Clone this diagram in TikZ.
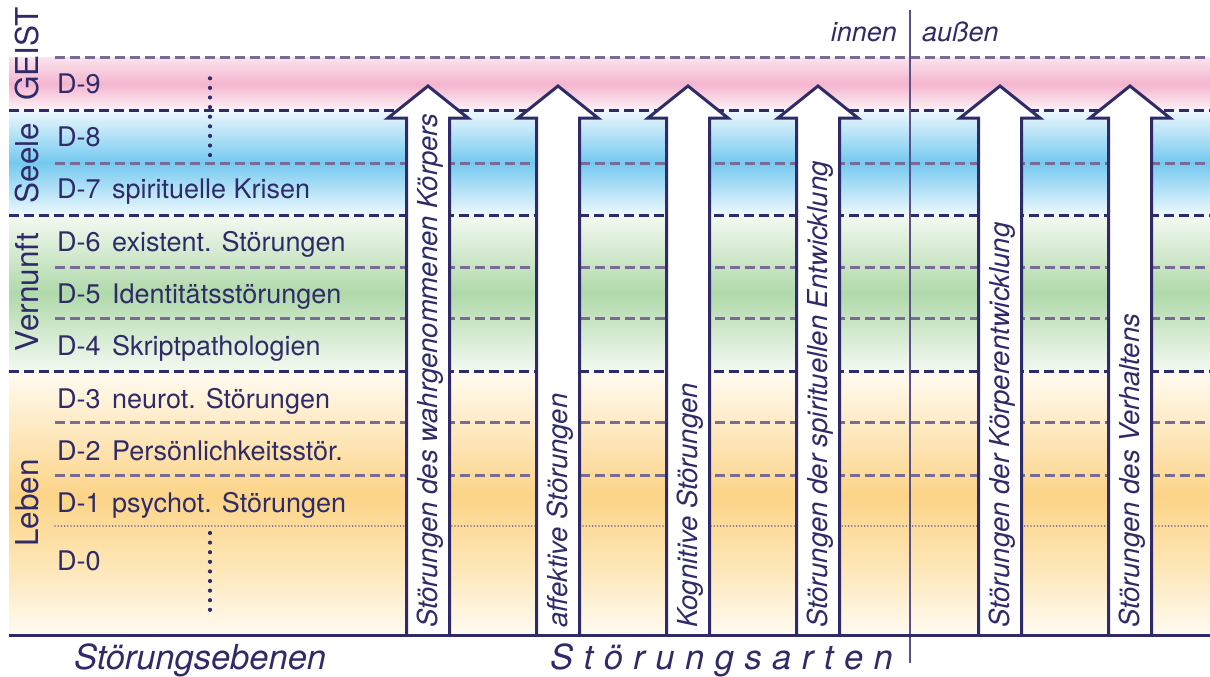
\documentclass[tikz,border=0pt]{standalone}
\usepackage{fontspec}
\setmainfont{TeX Gyre Heros}

\definecolor{navy}{RGB}{46,43,104}
\definecolor{dashgrey}{RGB}{120,108,150}
\definecolor{divider}{RGB}{92,80,140}
\definecolor{pinkpk}{RGB}{244,181,207}
\definecolor{pinklt}{RGB}{250,226,236}
\definecolor{pinkwt}{RGB}{253,242,247}
\definecolor{bluepk}{RGB}{116,201,240}
\definecolor{bluelt}{RGB}{238,248,253}
\definecolor{greenpk}{RGB}{176,217,170}
\definecolor{greenlt}{RGB}{244,249,242}
\definecolor{orangepk}{RGB}{252,212,136}
\definecolor{orangemd}{RGB}{253,230,182}
\definecolor{orangelt}{RGB}{255,251,242}

\begin{document}
\begin{tikzpicture}[x=1pt,y=-1pt,
  grpline/.style={navy, line width=3pt, dash pattern=on 9.5pt off 5.5pt},
  subline/.style={dashgrey, line width=3pt, dash pattern=on 9.5pt off 5.5pt},
  dotline/.style={dashgrey, line width=1.8pt, dash pattern=on 0pt off 3.2pt, line cap=round},
  dotcolumn/.style={navy, line width=4.2pt, dash pattern=on 0pt off 9.6pt, line cap=round},
  arrowbody/.style={draw=navy, fill=white, line width=3pt, line join=miter},
  grplabel/.style={text=navy, inner sep=0pt, rotate=90, anchor=base,
    font=\fontsize{31.5pt}{34pt}\selectfont},
  lvlabel/.style={text=navy, inner sep=0pt, anchor=base west,
    font=\fontsize{27pt}{30pt}\selectfont},
  arrowlabel/.style={text=navy, inner sep=0pt, rotate=90, anchor=base west,
    font=\fontsize{27.5pt}{30pt}\selectfont\itshape},
  sidelabel/.style={text=navy, inner sep=0pt,
    font=\fontsize{27pt}{30pt}\selectfont\itshape},
  axislabel/.style={text=navy, inner sep=0pt, anchor=base west,
    font=\fontsize{34.5pt}{37pt}\selectfont\itshape}
]
\useasboundingbox (0,0) rectangle (1210,677);

% colour bands of the four realms (middle color must come last)
\shade[top color=pinklt, bottom color=pinkwt, middle color=pinkpk]
  (9,58) rectangle (1210,110);
\shade[top color=bluelt, bottom color=bluelt, middle color=bluepk]
  (9,110) rectangle (1210,215);
\shade[top color=greenlt, bottom color=greenlt, middle color=greenpk]
  (9,215) rectangle (1210,371);
\shade[top color=orangelt, bottom color=orangepk]
  (9,371) rectangle (1210,496);
\shade[top color=orangepk, bottom color=orangelt, middle color=orangemd]
  (9,496) rectangle (1210,635);

% level separators
\foreach \y in {58,163,267,318,422,475}
  \draw[subline] (55,\y) -- (1210,\y);
\foreach \y in {110,215,371}
  \draw[grpline] (9,\y) -- (1210,\y);
\draw[dotline] (55,526) -- (1210,526);

% dotted continuation marks
\draw[dotcolumn] (210,78.3) -- (210,156);
\draw[dotcolumn] (210,533) -- (210,611);

% realm labels
\node[grplabel] (geist)    at (38,54)  {GEIST};
\node[grplabel] (seele)    at (38,163) {Seele};
\node[grplabel] (vernunft) at (38,292) {Vernunft};
\node[grplabel] (leben)    at (38,503) {Leben};

% disorder levels
\node[lvlabel] (d9) at (57,93.5) {D-9};
\node[lvlabel] (d8) at (57,146)  {D-8};
\node[lvlabel] (d7) at (57,198)  {D-7};
\node[lvlabel] (d6) at (57,251)  {D-6};
\node[lvlabel] (d5) at (57,303)  {D-5};
\node[lvlabel] (d4) at (57,355)  {D-4};
\node[lvlabel] (d3) at (57,408)  {D-3};
\node[lvlabel] (d2) at (57,460)  {D-2};
\node[lvlabel] (d1) at (57,512)  {D-1};
\node[lvlabel] (d0) at (57,570)  {D-0};

\node[lvlabel] (t7) at (112,198) {spirituelle Krisen};
\node[lvlabel] (t6) at (112,251) {existent. Störungen};
\node[lvlabel] (t5) at (112,303) {Identitätsstörungen};
\node[lvlabel] (t4) at (112,355) {Skriptpathologien};
\node[lvlabel] (t3) at (112,408) {neurot. Störungen};
\node[lvlabel] (t2) at (112,460) {Persönlichkeitsstör.};
\node[lvlabel] (t1) at (112,512) {psychot. Störungen};

% divider between inner and outer disorder types
\draw[divider, line width=2pt] (910,10) -- (910,663);
\node[sidelabel, anchor=base east] (innen) at (897,42) {innen};
\node[sidelabel, anchor=base west] (aussen) at (922,42) {außen};

% block arrows for the disorder types
\foreach \cx in {428,558,688,818,1000,1130}
  \draw[arrowbody] (\cx-21.5,635) -- (\cx-21.5,118) -- (\cx-40,118)
    -- (\cx,86) -- (\cx+40,118) -- (\cx+21.5,118) -- (\cx+21.5,635);

\node[arrowlabel] (a1) at (437.5,628) {Störungen des wahrgenommenen Körpers};
\node[arrowlabel] (a2) at (567.5,628) {affektive Störungen};
\node[arrowlabel] (a3) at (697.5,628) {Kognitive Störungen};
\node[arrowlabel] (a4) at (827.5,628) {Störungen der spirituellen Entwicklung};
\node[arrowlabel] (a5) at (1009.5,628) {Störungen der Körperentwicklung};
\node[arrowlabel] (a6) at (1139.5,628) {Störungen des Verhaltens};

% base line
\draw[navy, line width=3pt] (9,635) -- (1210,635);

% axis captions
\node[axislabel] (ebenen) at (74,669) {Störungsebenen};
\node[axislabel] (arten) at (550,669)
  {S\kern10.5pt t\kern10.5pt ö\kern10.5pt r\kern10.5pt u\kern10.5pt n\kern10.5pt g\kern10.5pt s\kern10.5pt a\kern10.5pt r\kern10.5pt t\kern10.5pt e\kern10.5pt n};
\end{tikzpicture}
\end{document}
